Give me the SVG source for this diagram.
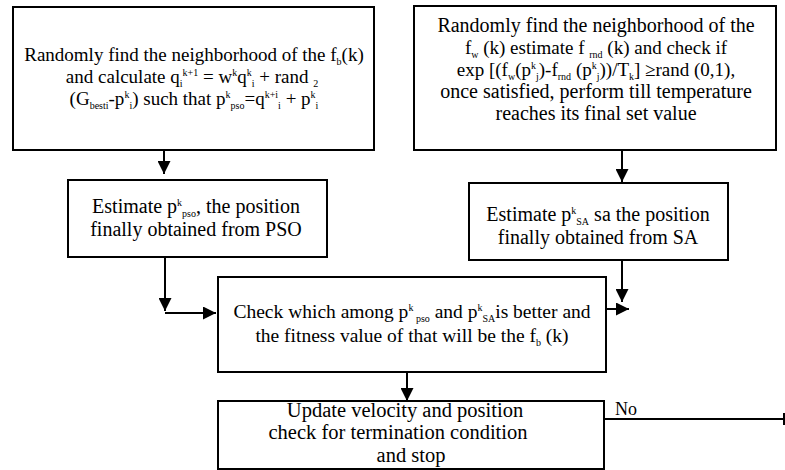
<svg xmlns="http://www.w3.org/2000/svg" width="785" height="470" viewBox="0 0 785 470">
<style>
.box{fill:#fff;stroke:#000;stroke-width:2}
.t{font-family:'Liberation Serif','Times New Roman','DejaVu Serif',serif;font-size:19px;fill:#000;text-anchor:middle}
.m{font-size:20px}
.l{font-size:20.5px}
.s{font-size:10px}
.c{fill:none;stroke:#000;stroke-width:2}
.lbl{font-family:'Liberation Serif','Times New Roman','DejaVu Serif',serif;font-size:18px;fill:#000}
</style>
<defs>
<marker id="ah" markerUnits="userSpaceOnUse" markerWidth="14" markerHeight="13" refX="13" refY="6.5" orient="auto">
<path d="M0,0 L13,6.5 L0,13 z" fill="#000"/>
</marker>
</defs>
<rect width="785" height="470" fill="#fff"/>

<g id="n1">
<rect class="box" x="13" y="7" width="361" height="143"/>
<text class="t" x="194" y="61">Randomly find the neighborhood of the f<tspan class="s" dy="4">b</tspan><tspan dy="-4">(k)</tspan></text>
<text class="t" x="192" y="83">and calculate q<tspan class="s" dy="4">i</tspan><tspan class="s" dy="-11">k+1</tspan><tspan dy="7"> = w</tspan><tspan class="s" dy="-7">k</tspan><tspan dy="7">q</tspan><tspan class="s" dy="-7">k</tspan><tspan class="s" dy="11">i</tspan><tspan dy="-4"> + rand </tspan><tspan class="s" dy="4">2</tspan></text>
<text class="t" x="194" y="105">(G<tspan class="s" dy="4">besti</tspan><tspan dy="-4">-p</tspan><tspan class="s" dy="-7">k</tspan><tspan class="s" dy="11">i</tspan><tspan dy="-4">) such that p</tspan><tspan class="s" dy="-7">k</tspan><tspan class="s" dy="11">pso</tspan><tspan dy="-4">=q</tspan><tspan class="s" dy="-7">k+i</tspan><tspan class="s" dy="11">i</tspan><tspan dy="-4"> + p</tspan><tspan class="s" dy="-7">k</tspan><tspan class="s" dy="11">i</tspan></text>
</g>

<g id="n2">
<rect class="box" x="414" y="6" width="362" height="144"/>
<text class="t m" x="596" y="32">Randomly find the neighborhood of the</text>
<text class="t" x="596" y="54">f<tspan class="s" dy="4">w</tspan><tspan dy="-4"> (k) estimate f </tspan><tspan class="s" dy="4">rnd</tspan><tspan dy="-4"> (k) and check if</tspan></text>
<text class="t" x="596" y="76">exp [(f<tspan class="s" dy="4">w</tspan><tspan dy="-4">(p</tspan><tspan class="s" dy="-7">k</tspan><tspan class="s" dy="11">j</tspan><tspan dy="-4">)-f</tspan><tspan class="s" dy="4">rnd</tspan><tspan dy="-4"> (p</tspan><tspan class="s" dy="-7">k</tspan><tspan class="s" dy="11">j</tspan><tspan dy="-4">))/T</tspan><tspan class="s" dy="4">k</tspan><tspan dy="-4">] ≥rand (0,1),</tspan></text>
<text class="t m" x="596" y="98">once satisfied, perform till temperature</text>
<text class="t m" x="596" y="120">reaches its final set value</text>
</g>

<g id="n3">
<rect class="box" x="68" y="180" width="259" height="77"/>
<text class="t m" x="196" y="213">Estimate p<tspan class="s" dy="-7">k</tspan><tspan class="s" dy="11">pso</tspan><tspan dy="-4">, the position</tspan></text>
<text class="t m" x="196" y="236">finally obtained from PSO</text>
</g>

<g id="n4">
<rect class="box" x="469" y="183" width="259" height="77"/>
<text class="t m" x="598" y="221">Estimate p<tspan class="s" dy="-7">k</tspan><tspan class="s" dy="11">SA</tspan><tspan dy="-4"> sa the position</tspan></text>
<text class="t m" x="598" y="244">finally obtained from SA</text>
</g>

<g id="n5">
<rect class="box" x="218" y="277" width="388" height="95"/>
<text class="t" x="412" y="318" style="font-size:19.5px">Check which among p<tspan class="s" dy="-7">k</tspan><tspan class="s" dy="11"> pso</tspan><tspan dy="-4"> and p</tspan><tspan class="s" dy="-7">k</tspan><tspan class="s" dy="11">SA</tspan><tspan dy="-4">is better and</tspan></text>
<text class="t" x="412" y="342" style="font-size:19.5px">the fitness value of that will be the f<tspan class="s" dy="4">b</tspan><tspan dy="-4"> (k)</tspan></text>
</g>

<g id="n6">
<rect class="box" x="218" y="401" width="386" height="68"/>
<text class="t l" x="405" y="417">Update velocity and position</text>
<text class="t l" x="398" y="439">check for termination condition</text>
<text class="t l" x="411" y="462">and stop</text>
</g>

<g id="connectors">
<line class="c" x1="164" y1="150" x2="164" y2="174" marker-end="url(#ah)"/>
<line class="c" x1="622" y1="150" x2="622" y2="182" marker-end="url(#ah)"/>
<line class="c" x1="165" y1="257" x2="165" y2="311" marker-end="url(#ah)"/>
<line class="c" x1="165" y1="313" x2="216" y2="313" marker-end="url(#ah)"/>
<line class="c" x1="622" y1="260" x2="622" y2="302" marker-end="url(#ah)"/>
<line class="c" x1="606" y1="309" x2="629" y2="309" marker-end="url(#ah)"/>
<line class="c" x1="407" y1="372" x2="407" y2="401" marker-end="url(#ah)"/>
<line class="c" x1="604" y1="419" x2="784" y2="419"/>
<line class="c" x1="784" y1="413" x2="784" y2="425"/>
<text class="lbl" x="615" y="415">No</text>
</g>
</svg>
